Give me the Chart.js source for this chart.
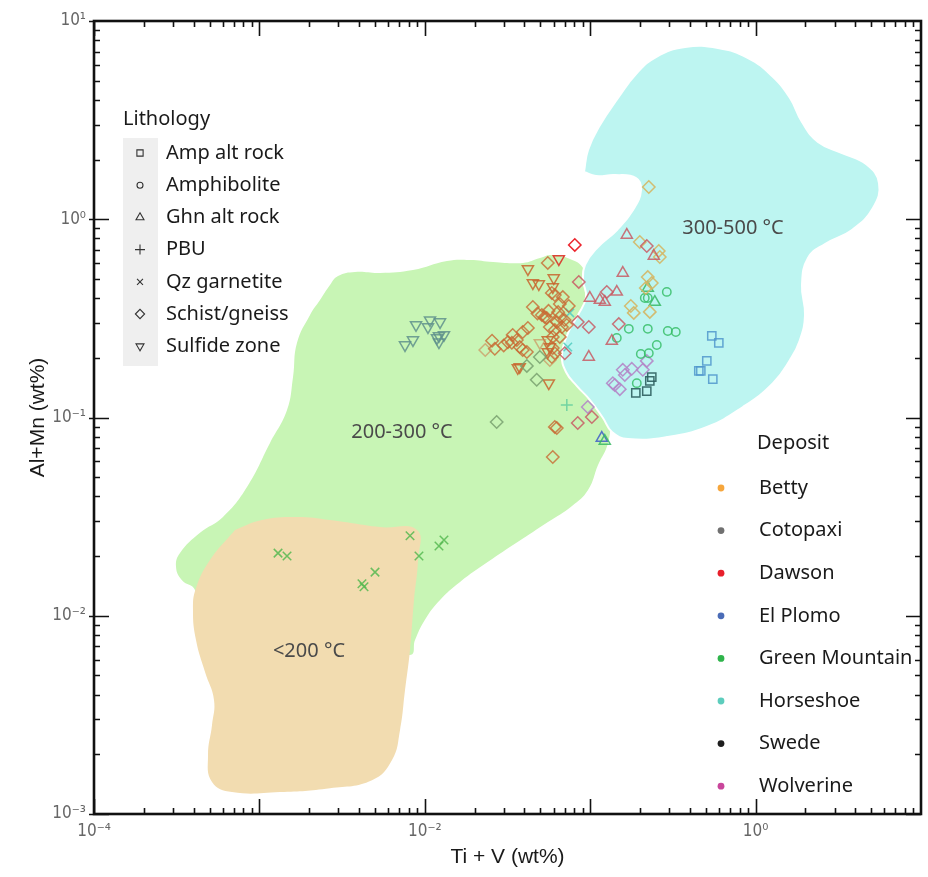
<!DOCTYPE html>
<html>
<head>
<meta charset="utf-8">
<script src="https://cdn.jsdelivr.net/npm/chart.js@4.4.0/dist/chart.umd.min.js"></script>
<style>
  html, body { margin: 0; padding: 0; background: #fff; }
  #wrap { width: 928px; height: 877px; }
</style>
</head>
<body>
<div id="wrap"><canvas id="c" width="928" height="877"></canvas></div>
<script>
// ---- axis ticks ----
var X_TICKS = [1e-4, 1e-2, 1];
var Y_TICKS = [1e-3, 1e-2, 1e-1, 1, 10];

// ---- legends ----
var lithologies = ["Amp alt rock", "Amphibolite", "Ghn alt rock", "PBU", "Qz garnetite", "Schist/gneiss", "Sulfide zone"];
var deposits = ["Betty", "Cotopaxi", "Dawson", "El Plomo", "Green Mountain", "Horseshoe", "Swede", "Wolverine"];
var depositColors = ["#f6a63c", "#707070", "#e81f2b", "#4b6cb7", "#2fb44b", "#5dcdbd", "#1e1e1e", "#c9469b"];

// ---- temperature fields (Ti+V, Al+Mn) ----
var zoneHot = [ // 300-500 °C
  [0.0917, 1.731], [0.0970, 2.236], [0.1146, 2.988], [0.1473, 4.089], [0.1892, 5.403], [0.2500, 6.582],
  [0.3744, 7.392], [0.5925, 7.306], [0.900, 6.506], [1.257, 5.279], [1.614, 4.089], [1.908, 3.094],
  [2.384, 2.454], [3.331, 2.159], [4.651, 1.899], [5.574, 1.523], [5.127, 1.139], [3.826, 0.883],
  [2.628, 0.750], [2.074, 0.637], [1.908, 0.466], [1.990, 0.329], [1.855, 0.246], [1.614, 0.195],
  [1.274, 0.149], [0.839, 0.113], [0.5084, 0.0896], [0.2914, 0.0797], [0.1692, 0.0779], [0.1354, 0.0845],
  [0.1195, 0.0994], [0.0997, 0.1225], [0.0832, 0.1441], [0.0714, 0.1697], [0.0675, 0.2066], [0.0734, 0.2668],
  [0.0844, 0.329], [0.0943, 0.405], [0.0905, 0.494], [0.0930, 0.588], [0.1099, 0.716], [0.1452, 0.883],
  [0.1815, 1.113], [0.2028, 1.404], [0.1892, 1.614], [0.1413, 1.671], [0.1084, 1.652], [0.0917, 1.731]
];
var zoneMid = [ // 200-300 °C
  [0.1146, 0.391], [0.1229, 0.155], [0.1317, 0.0971], [0.1281, 0.0744], [0.1115, 0.0576], [0.0970, 0.0431],
  [0.07762, 0.0358], [0.05557, 0.0297], [0.03659, 0.0236], [0.02411, 0.0187], [0.01633, 0.0148], [0.01236, 0.0120],
  [0.0100, 0.00952], [0.008726, 0.00754], [0.008137, 0.00634], [0.001760, 0.00672], [0.0004374, 0.00952],
  [0.0004079, 0.0135], [0.0003404, 0.0151], [0.0003133, 0.0176], [0.0003311, 0.0207], [0.0004374, 0.0262],
  [0.0006024, 0.0315], [0.0008414, 0.0446], [0.001159, 0.0744], [0.001469, 0.109], [0.001597, 0.160],
  [0.001688, 0.238], [0.002023, 0.329], [0.002325, 0.391], [0.002672, 0.466], [0.002987, 0.517],
  [0.003784, 0.542], [0.005359, 0.536], [0.008484, 0.555], [0.01362, 0.616], [0.01876, 0.623],
  [0.02585, 0.609], [0.03924, 0.602], [0.04970, 0.637], [0.05875, 0.660], [0.07549, 0.630],
  [0.0905, 0.568], [0.1146, 0.391]
];
var zoneLow = [ // <200 °C
  [0.0007118, 0.0271], [0.001037, 0.0304], [0.001688, 0.0315], [0.002672, 0.0304], [0.005359, 0.0280],
  [0.008971, 0.0271], [0.009097, 0.0191], [0.008603, 0.0120], [0.008137, 0.00672], [0.007593, 0.00422],
  [0.007083, 0.00265], [0.006335, 0.00187], [0.004795, 0.00148], [0.002672, 0.00135], [0.001332, 0.00129],
  [0.0006829, 0.00129], [0.0005170, 0.00145], [0.0004890, 0.00198], [0.0005170, 0.00281], [0.0005315, 0.00376],
  [0.0004690, 0.00520], [0.0004137, 0.00754], [0.0003967, 0.0107], [0.0004137, 0.0138], [0.0005027, 0.0191],
  [0.0007118, 0.0271]
];
var zoneNames = ["300-500 °C", "200-300 °C", "<200 °C"];
var zoneNameAt = [[0.730, 0.903], [0.00728, 0.0845], [0.001995, 0.00664]];

// ---- samples [Ti+V, Al+Mn] ----
var bettySchistCluster = [
  [0.0554, 0.602], [0.0611, 0.415], [0.0586, 0.425], [0.0683, 0.405], [0.0655, 0.374], [0.0742, 0.365],
  [0.0450, 0.361], [0.0510, 0.329], [0.0531, 0.321], [0.0546, 0.318], [0.0655, 0.321], [0.0628, 0.303],
  [0.0570, 0.286], [0.0611, 0.276], [0.0674, 0.286], [0.0722, 0.293], [0.0594, 0.255], [0.0655, 0.255],
  [0.0420, 0.283], [0.0391, 0.270], [0.0340, 0.261], [0.0318, 0.240], [0.0336, 0.238], [0.0360, 0.246],
  [0.0375, 0.227], [0.0391, 0.219], [0.0414, 0.214], [0.0594, 0.224], [0.0611, 0.211], [0.0586, 0.202],
  [0.0611, 0.0896], [0.0628, 0.0885], [0.0594, 0.0632], [0.0640, 0.340], [0.0700, 0.310], [0.0560, 0.345],
  [0.0480, 0.335], [0.0255, 0.244], [0.0265, 0.222], [0.0300, 0.231]
];
var bettySulfideCluster = [
  [0.0420, 0.561], [0.0450, 0.477], [0.0489, 0.471], [0.0594, 0.455], [0.0602, 0.505], [0.0554, 0.246],
  [0.0570, 0.227], [0.0554, 0.214], [0.0375, 0.180], [0.0365, 0.178], [0.0562, 0.149]
];
var bettyPaleSchist = [[0.0232, 0.219], [0.0570, 0.195]];
var bettyPaleSulfide = [[0.0496, 0.238]];
var bettySchist = [
  [0.2261, 1.455], [0.1995, 0.768], [0.2598, 0.692], [0.2635, 0.645], [0.2229, 0.511], [0.2357, 0.477],
  [0.2168, 0.450], [0.1760, 0.365], [0.1834, 0.337], [0.2293, 0.341]
];
var cotopaxiSchist = [[0.0496, 0.202], [0.0414, 0.182], [0.0475, 0.155], [0.0272, 0.0949]];
var cotopaxiSulfide = [
  [0.00885, 0.293], [0.01075, 0.310], [0.01045, 0.286], [0.01236, 0.303], [0.01218, 0.258],
  [0.01306, 0.261], [0.01218, 0.240], [0.00848, 0.246], [0.00759, 0.232], [0.01185, 0.252]
];
var dawsonSchist = [[0.0807, 0.742]];
var dawsonSulfide = [[0.0646, 0.630]];
var dawsonSchistHot = [
  [0.0853, 0.483], [0.0841, 0.303], [0.0981, 0.286], [0.0702, 0.211], [0.1489, 0.296], [0.2198, 0.733],
  [0.1260, 0.430], [0.1023, 0.1006], [0.0841, 0.0938]
];
var dawsonGhn = [
  [0.0995, 0.401], [0.1143, 0.391], [0.1225, 0.382], [0.1448, 0.430], [0.1351, 0.243], [0.0981, 0.202],
  [0.1665, 0.833], [0.2424, 0.653], [0.1574, 0.536]
];
var elPlomoAmp = [[0.5435, 0.258], [0.5992, 0.238], [0.5070, 0.193], [0.4536, 0.172], [0.4664, 0.172], [0.5511, 0.156]];
var elPlomoGhn = [[0.1175, 0.0788]];
var greenMtnAmphibolite = [
  [0.2138, 0.401], [0.2229, 0.401], [0.2905, 0.430], [0.1712, 0.280], [0.2229, 0.280], [0.2946, 0.273],
  [0.3292, 0.270], [0.1448, 0.252], [0.2527, 0.232], [0.2023, 0.209], [0.2261, 0.211], [0.1913, 0.149]
];
var greenMtnGhn = [[0.2229, 0.450], [0.2458, 0.382], [0.1225, 0.0761]];
var greenMtnQz = [
  [0.001296, 0.0207], [0.001469, 0.0200], [0.00814, 0.0253], [0.00922, 0.0200], [0.01218, 0.0225],
  [0.01306, 0.0241], [0.0050, 0.0166], [0.00417, 0.0145], [0.00429, 0.0140]
];
var horseshoeQz = [[0.0753, 0.337], [0.0732, 0.227]];
var horseshoePbu = [[0.0722, 0.1156]];
var swedeAmp = [[0.2357, 0.160], [0.2293, 0.153], [0.2198, 0.136], [0.1887, 0.133]];
var wolverineSchist = [
  [0.2198, 0.193], [0.2080, 0.174], [0.1784, 0.176], [0.1574, 0.174], [0.1619, 0.164], [0.1408, 0.146],
  [0.1510, 0.139], [0.1370, 0.149], [0.0967, 0.113]
];

// marker look for each lithology
var MARK = {
  amp: { pointStyle: "rect", pointRadius: 5.8, pointRotation: 0 },
  amph: { pointStyle: "circle", pointRadius: 4.2, pointRotation: 0 },
  ghn: { pointStyle: "triangle", pointRadius: 6.4, pointRotation: 0 },
  pbu: { pointStyle: "cross", pointRadius: 6, pointRotation: 0 },
  qz: { pointStyle: "crossRot", pointRadius: 6, pointRotation: 0 },
  schist: { pointStyle: "rectRot", pointRadius: 6.2, pointRotation: 0 },
  sulf: { pointStyle: "triangle", pointRadius: 6.4, pointRotation: 180 }
};

function xy(arr) { return arr.map(function (p) { return { x: p[0], y: p[1] }; }); }

function samples(label, arr, kind, color) {
  var m = MARK[kind];
  return {
    label: label, data: xy(arr), order: 0,
    pointStyle: m.pointStyle, pointRadius: m.pointRadius, pointRotation: m.pointRotation,
    borderColor: color, backgroundColor: "rgba(0,0,0,0)", pointBorderWidth: 1.5, showLine: false
  };
}

function zone(label, arr, fill, edge, order) {
  return {
    label: label, data: xy(arr), order: order, showLine: true, tension: 0.45,
    fill: "shape", backgroundColor: fill, borderColor: edge, borderWidth: edge ? 2 : 0,
    pointRadius: 0
  };
}

var datasets = [
  zone("300-500 °C", zoneHot, "#bdf5f1", "#ffffff", 10),
  zone("<200 °C", zoneLow, "#f2dcb0", null, 11),
  zone("200-300 °C", zoneMid, "#c8f5b5", null, 12),

  samples("Cotopaxi Sulfide zone", cotopaxiSulfide, "sulf", "rgba(95,145,140,0.85)"),
  samples("Cotopaxi Schist/gneiss", cotopaxiSchist, "schist", "rgba(120,160,110,0.85)"),
  samples("Green Mountain Qz garnetite", greenMtnQz, "qz", "rgba(85,185,80,0.85)"),
  samples("Betty Schist/gneiss pale", bettyPaleSchist, "schist", "rgba(205,130,80,0.6)"),
  samples("Betty Sulfide zone pale", bettyPaleSulfide, "sulf", "rgba(205,130,80,0.6)"),
  samples("Betty Schist/gneiss", bettySchistCluster, "schist", "rgba(200,105,50,0.8)"),
  samples("Betty Sulfide zone", bettySulfideCluster, "sulf", "rgba(200,100,45,0.85)"),
  samples("Dawson Schist/gneiss", dawsonSchist, "schist", "rgba(235,25,35,0.95)"),
  samples("Dawson Sulfide zone", dawsonSulfide, "sulf", "rgba(220,50,40,0.9)"),
  samples("Dawson Schist/gneiss hot", dawsonSchistHot, "schist", "rgba(200,90,100,0.85)"),
  samples("Dawson Ghn alt rock", dawsonGhn, "ghn", "rgba(200,90,100,0.85)"),
  samples("Betty Schist/gneiss hot", bettySchist, "schist", "rgba(212,182,100,0.9)"),
  samples("Green Mountain Amphibolite", greenMtnAmphibolite, "amph", "rgba(55,190,105,0.85)"),
  samples("Green Mountain Ghn alt rock", greenMtnGhn, "ghn", "rgba(55,185,100,0.85)"),
  samples("El Plomo Ghn alt rock", elPlomoGhn, "ghn", "rgba(70,100,200,0.9)"),
  samples("El Plomo Amp alt rock", elPlomoAmp, "amp", "rgba(80,150,205,0.85)"),
  samples("Swede Amp alt rock", swedeAmp, "amp", "rgba(45,95,95,0.9)"),
  samples("Wolverine Schist/gneiss", wolverineSchist, "schist", "rgba(180,135,200,0.9)"),
  samples("Horseshoe Qz garnetite", horseshoeQz, "qz", "rgba(85,205,195,0.9)"),
  samples("Horseshoe PBU", horseshoePbu, "pbu", "rgba(110,210,160,0.95)")
];

function sup(v) {
  var e = Math.round(Math.log10(v));
  var map = { "-": "\u207b", "0": "\u2070", "1": "\u00b9", "2": "\u00b2", "3": "\u00b3", "4": "\u2074" };
  return "10" + String(e).split("").map(function (ch) { return map[ch]; }).join("");
}

var TEXT_FONT = "'Noto Sans', 'Open Sans', sans-serif";

var decorations = {
  id: "decorations",
  afterDatasetsDraw: function (chart) {
    var ctx = chart.ctx, a = chart.chartArea, sx = chart.scales.x, sy = chart.scales.y;
    ctx.save();

    // zone names
    ctx.fillStyle = "#4a4a4a";
    ctx.font = "20px " + TEXT_FONT;
    ctx.textAlign = "center";
    ctx.textBaseline = "middle";
    zoneNames.forEach(function (t, i) {
      ctx.fillText(t, sx.getPixelForValue(zoneNameAt[i][0]), sy.getPixelForValue(zoneNameAt[i][1]));
    });

    // frame and inward ticks
    ctx.strokeStyle = "#111";
    ctx.lineWidth = 1.6;
    ctx.beginPath();
    var d, m, v, p, len;
    for (d = -4; d <= 0; d++) {
      for (m = 1; m <= 9; m++) {
        v = m * Math.pow(10, d);
        p = Math.round(sx.getPixelForValue(v)) + 0.5;
        len = m === 1 ? 15 : 6;
        ctx.moveTo(p, a.bottom); ctx.lineTo(p, a.bottom - len);
        ctx.moveTo(p, a.top); ctx.lineTo(p, a.top + len);
      }
    }
    for (d = -3; d <= 0; d++) {
      for (m = 1; m <= 9; m++) {
        v = m * Math.pow(10, d);
        p = Math.round(sy.getPixelForValue(v)) + 0.5;
        len = m === 1 ? 15 : 6;
        ctx.moveTo(a.left, p); ctx.lineTo(a.left + len, p);
        ctx.moveTo(a.right, p); ctx.lineTo(a.right - len, p);
      }
    }
    Y_TICKS.forEach(function (t) {
      p = Math.round(sy.getPixelForValue(t)) + 0.5;
      ctx.moveTo(a.left - 5, p); ctx.lineTo(a.left, p);
    });
    ctx.stroke();
    ctx.lineWidth = 2.6;
    ctx.strokeRect(a.left, a.top, a.right - a.left, a.bottom - a.top);

    // lithology legend
    ctx.fillStyle = "#efefef";
    ctx.fillRect(123, 138, 35, 228);
    ctx.fillStyle = "#1a1a1a";
    ctx.textAlign = "left";
    ctx.font = "20px " + TEXT_FONT;
    ctx.fillText("Lithology", 123, 119);
    var kinds = ["amp", "amph", "ghn", "pbu", "qz", "schist", "sulf"];
    var small = { amp: 4.4, amph: 3, ghn: 4.6, pbu: 5, qz: 4.2, schist: 4.6, sulf: 4.6 };
    lithologies.forEach(function (t, i) {
      var yy = 153 + i * 32.2;
      ctx.fillStyle = "#1a1a1a";
      ctx.fillText(t, 166, yy);
      ctx.strokeStyle = "#333";
      ctx.fillStyle = "rgba(0,0,0,0)";
      ctx.lineWidth = 1.1;
      Chart.helpers.drawPoint(ctx, {
        pointStyle: MARK[kinds[i]].pointStyle, rotation: MARK[kinds[i]].pointRotation,
        radius: small[kinds[i]], borderWidth: 1.1
      }, 140, yy);
    });

    // deposit legend
    ctx.fillStyle = "#1a1a1a";
    ctx.fillText("Deposit", 757, 443);
    deposits.forEach(function (t, i) {
      var yy = 488 + i * 42.6;
      ctx.fillStyle = depositColors[i];
      ctx.beginPath();
      ctx.arc(721, yy, 3.4, 0, Math.PI * 2);
      ctx.fill();
      ctx.fillStyle = "#1a1a1a";
      ctx.fillText(t, 759, yy);
    });
    ctx.restore();
  }
};

new Chart(document.getElementById("c"), {
  type: "scatter",
  data: { datasets: datasets },
  options: {
    responsive: false,
    animation: false,
    devicePixelRatio: 1,
    events: [],
    layout: { padding: { top: 21, right: 7, left: 0, bottom: 0 }, autoPadding: false },
    plugins: { legend: { display: false }, tooltip: { enabled: false }, filler: { propagate: false } },
    scales: {
      x: {
        type: "logarithmic", min: 1e-4, max: 10,
        grid: { display: false, drawTicks: false }, border: { display: false },
        afterBuildTicks: function (s) { s.ticks = X_TICKS.map(function (v) { return { value: v }; }); },
        afterFit: function (s) { s.height = 63; },
        ticks: {
          autoSkip: false, maxRotation: 0, padding: 7, color: "#666",
          font: { family: "'Liberation Sans Narrow', 'DejaVu Sans Condensed', sans-serif", size: 17 },
          callback: function (v) { return sup(v); }
        },
        title: {
          display: true, text: "Ti + V (wt%)", color: "#1a1a1a",
          font: { family: "'Liberation Sans', Arial, sans-serif", size: 21 }, padding: { top: 0, bottom: 7 }
        }
      },
      y: {
        type: "logarithmic", min: 1e-3, max: 10,
        grid: { display: false, drawTicks: false }, border: { display: false },
        afterBuildTicks: function (s) { s.ticks = Y_TICKS.map(function (v) { return { value: v }; }); },
        afterFit: function (s) { s.width = 94; },
        ticks: {
          autoSkip: false, padding: 8, color: "#666",
          font: { family: "'Liberation Sans Narrow', 'DejaVu Sans Condensed', sans-serif", size: 17 },
          callback: function (v) { return sup(v); }
        },
        title: {
          display: true, text: "Al+Mn (wt%)", color: "#1a1a1a",
          font: { family: "'Liberation Sans', Arial, sans-serif", size: 21 }, padding: { top: 26, bottom: 0 }
        }
      }
    }
  },
  plugins: [decorations]
});
</script>
</body>
</html>
